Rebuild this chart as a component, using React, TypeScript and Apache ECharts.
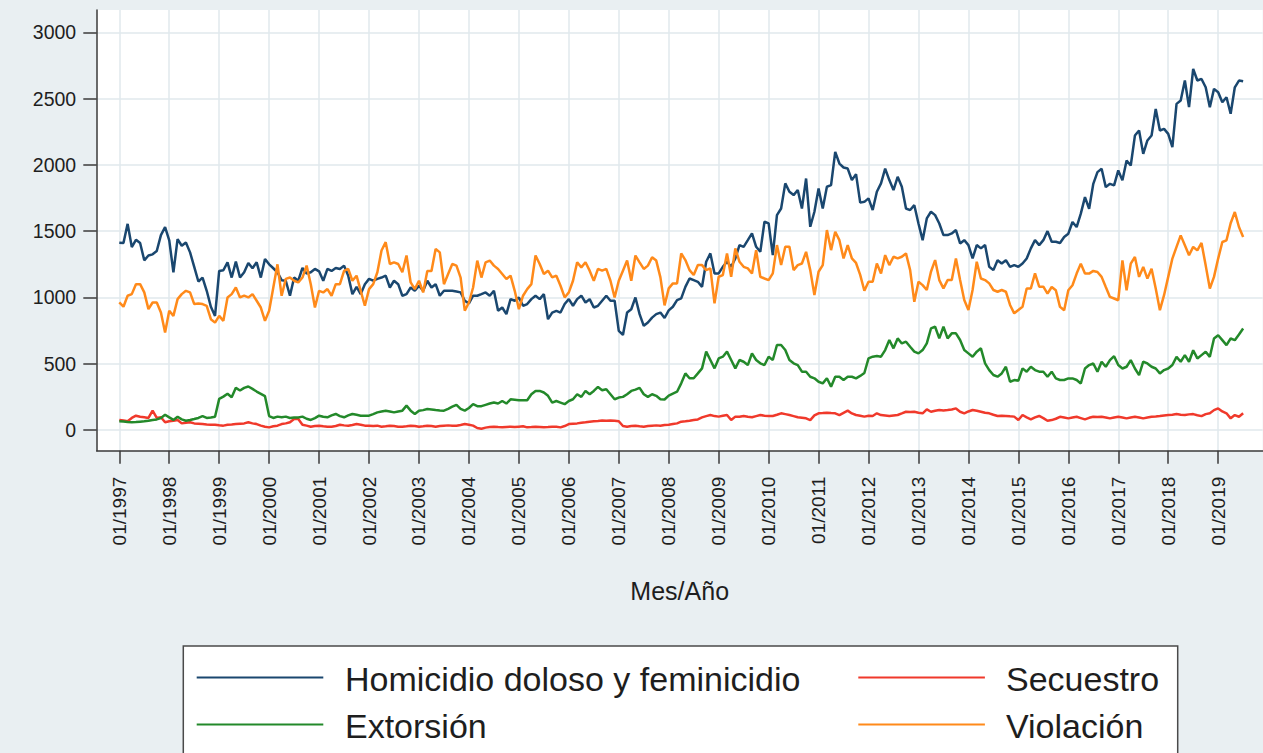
import React, { useEffect, useRef } from "react";
import * as echarts from "echarts";

// ---------- data ----------
const yearTicks = [0, 12, 24, 36, 48, 60, 72, 84, 96, 108, 120, 132, 144, 156, 168, 180, 192, 204, 216, 228, 240, 252, 264];
const yearTickLabels = [
  "01/1997", "01/1998", "01/1999", "01/2000", "01/2001", "01/2002", "01/2003", "01/2004",
  "01/2005", "01/2006", "01/2007", "01/2008", "01/2009", "01/2010", "01/2011", "01/2012",
  "01/2013", "01/2014", "01/2015", "01/2016", "01/2017", "01/2018", "01/2019",
];
const yTicks = [0, 500, 1000, 1500, 2000, 2500, 3000];

const seriesNames = ["Homicidio doloso y feminicidio", "Secuestro", "Extorsión", "Violación"];
const seriesColors = ["#1a476f", "#f0392b", "#23892a", "#ff8a1a"];

// monthly values, 01/1997 .. 07/2019
const homicidio = [
  1412, 1410, 1555, 1380, 1435, 1410, 1280, 1316, 1325, 1350,
  1470, 1530, 1430, 1190, 1440, 1390, 1415, 1340, 1230, 1120,
  1150, 1050, 930, 860, 1200, 1205, 1265, 1150, 1270, 1150,
  1190, 1260, 1220, 1265, 1150, 1290, 1250, 1220, 1190, 1130,
  1126, 1013, 1150, 1126, 1222, 1180, 1190, 1215, 1197, 1126,
  1215, 1200, 1222, 1215, 1240, 1164, 1025, 1080, 1025, 1100,
  1140, 1126, 1140, 1150, 1164, 1075, 1126, 1100, 1013, 1025,
  1075, 1050, 1088, 1050, 1126, 1075, 1100, 1013, 1050, 1050,
  1050, 1045, 1038, 975, 955, 1013, 1013, 1025, 1038, 1013,
  1050, 899, 924, 874, 987, 975, 1000, 937, 950, 987,
  1013, 987, 1025, 836, 886, 899, 886, 950, 987, 937,
  987, 1013, 962, 987, 924, 937, 975, 1013, 975, 975,
  748, 717, 886, 911, 1000, 874, 786, 811, 848, 874,
  886, 845, 902, 930, 980, 993, 1080, 1143, 1131, 1118,
  1080, 1269, 1332, 1181, 1181, 1231, 1269, 1231, 1294, 1395,
  1382, 1432, 1483, 1382, 1344, 1571, 1558, 1319, 1621, 1671,
  1860, 1797, 1772, 1810, 1671, 1897, 1533, 1646, 1822, 1671,
  1835, 1847, 2098, 2010, 1980, 1972, 1885, 1930, 1715, 1721,
  1747, 1659, 1797, 1860, 1972, 1885, 1810, 1910, 1835, 1671,
  1659, 1696, 1558, 1432, 1596, 1646, 1621, 1558, 1470, 1470,
  1483, 1508, 1407, 1432, 1395, 1294, 1395, 1370, 1395, 1231,
  1206, 1281, 1256, 1281, 1231, 1244, 1231, 1256, 1294, 1370,
  1432, 1395, 1432, 1500, 1420, 1420, 1411, 1456, 1481, 1569,
  1531, 1632, 1757, 1669, 1857, 1945, 1970, 1832, 1857, 1845,
  1958, 1883, 2033, 1995, 2221, 2259, 2083, 2184, 2221, 2422,
  2259, 2271, 2234, 2134, 2460, 2485, 2636, 2435, 2723, 2636,
  2648, 2585, 2435, 2573, 2548, 2472, 2510, 2385, 2585, 2636, 2630,
];

const secuestro = [
  76, 71, 66, 91, 108, 100, 96, 91, 146, 91,
  96, 58, 66, 70, 76, 50, 55, 58, 50, 48,
  45, 42, 40, 40, 36, 33, 40, 42, 45, 48,
  50, 58, 50, 45, 33, 25, 20, 28, 33, 45,
  50, 58, 83, 83, 40, 33, 25, 30, 33, 28,
  25, 25, 30, 40, 35, 33, 38, 45, 40, 33,
  33, 30, 33, 25, 28, 33, 30, 25, 25, 28,
  33, 30, 25, 28, 33, 30, 25, 30, 33, 35,
  33, 33, 38, 45, 40, 33, 15, 10, 18, 22,
  25, 22, 20, 23, 25, 22, 25, 28, 20, 22,
  25, 23, 20, 22, 25, 24, 20, 30, 45, 48,
  50, 55, 58, 62, 66, 68, 71, 70, 71, 70,
  66, 30, 25, 30, 33, 28, 25, 30, 33, 35,
  33, 38, 40, 45, 50, 63, 66, 70, 75, 80,
  95, 105, 113, 105, 101, 108, 113, 75, 101, 100,
  106, 100, 96, 105, 113, 108, 106, 106, 115, 126,
  120, 113, 105, 96, 92, 88, 75, 110, 126, 128,
  131, 128, 126, 113, 130, 146, 125, 113, 108, 101,
  108, 106, 126, 113, 110, 106, 110, 113, 125, 138,
  135, 138, 130, 126, 156, 138, 145, 151, 148, 151,
  155, 163, 138, 126, 140, 151, 145, 138, 130, 126,
  115, 106, 108, 106, 103, 101, 75, 113, 95, 80,
  95, 106, 90, 70, 75, 85, 100, 95, 88, 95,
  100, 90, 80, 92, 100, 98, 100, 95, 88, 95,
  100, 95, 88, 95, 100, 95, 88, 95, 100, 102,
  105, 110, 113, 116, 120, 116, 113, 118, 120, 112,
  105, 120, 126, 150, 163, 140, 126, 88, 113, 100, 126,
];

const extorsion = [
  66, 64, 60, 58, 60, 63, 66, 70, 76, 80,
  91, 115, 95, 76, 100, 80, 70, 76, 83, 91,
  105, 91, 95, 100, 235, 252, 273, 247, 318, 298,
  318, 328, 310, 290, 273, 255, 105, 91, 101, 96,
  101, 91, 95, 95, 101, 85, 76, 90, 108, 100,
  96, 110, 121, 105, 96, 110, 121, 115, 108, 108,
  108, 120, 133, 140, 146, 140, 133, 140, 146, 184,
  146, 121, 146, 150, 159, 155, 151, 148, 146, 160,
  176, 190, 159, 146, 166, 195, 180, 180, 190, 200,
  207, 200, 219, 200, 232, 228, 224, 224, 224, 270,
  295, 295, 283, 258, 207, 219, 207, 195, 219, 232,
  270, 250, 295, 270, 295, 325, 300, 308, 270, 232,
  245, 250, 270, 295, 305, 318, 270, 250, 270, 258,
  232, 230, 260, 275, 289, 352, 427, 390, 390, 427,
  465, 591, 528, 465, 540, 553, 591, 528, 465, 528,
  515, 490, 578, 528, 503, 490, 553, 528, 641, 641,
  603, 528, 503, 490, 440, 440, 402, 390, 364, 352,
  390, 327, 402, 402, 377, 402, 402, 390, 408, 430,
  540, 553, 558, 553, 603, 679, 616, 691, 653, 666,
  628, 591, 578, 603, 653, 766, 779, 691, 779, 691,
  729, 729, 679, 603, 578, 553, 591, 616, 503, 452,
  415, 402, 427, 477, 364, 377, 372, 465, 440, 477,
  452, 440, 440, 402, 440, 389, 377, 377, 389, 389,
  377, 351, 464, 490, 502, 440, 515, 477, 527, 557,
  490, 464, 477, 527, 464, 414, 515, 502, 477, 464,
  427, 452, 464, 490, 552, 515, 565, 515, 602, 540,
  565, 590, 552, 690, 715, 678, 640, 690, 678, 720, 766,
];

const violacion = [
  962, 930, 1013, 1025, 1100, 1100, 1038, 912, 962, 962,
  886, 735, 900, 861, 987, 1025, 1050, 1038, 950, 955,
  950, 937, 836, 810, 861, 823, 1000, 1025, 1075, 1000,
  1013, 1000, 1025, 975, 924, 823, 900, 1075, 1250, 1013,
  1140, 1150, 1126, 1113, 1150, 1240, 1100, 924, 1050, 1038,
  1063, 1013, 1100, 1100, 1200, 1215, 1126, 1164, 1050, 937,
  1063, 1100, 1190, 1354, 1417, 1252, 1265, 1252, 1190, 1316,
  1113, 1063, 1126, 1038, 1200, 1200, 1366, 1340, 1100, 1177,
  1252, 1240, 1150, 900, 962, 1075, 1278, 1150, 1265, 1278,
  1240, 1215, 1177, 1139, 1164, 1050, 912, 1013, 1063, 1100,
  1316, 1252, 1177, 1202, 1151, 1164, 1088, 1000, 1038, 1126,
  1265, 1227, 1265, 1202, 1126, 1215, 1202, 1215, 1126, 1000,
  1126, 1202, 1278, 1126, 1316, 1265, 1215, 1240, 1303, 1278,
  1151, 940, 1068, 1106, 1106, 1332, 1282, 1206, 1169, 1244,
  1244, 1206, 1219, 955, 1156, 1169, 1332, 1156, 1370, 1269,
  1231, 1219, 1181, 1357, 1156, 1143, 1131, 1181, 1395, 1244,
  1382, 1382, 1206, 1244, 1256, 1344, 1206, 1018, 1194, 1244,
  1508, 1357, 1495, 1432, 1294, 1395, 1294, 1260, 1170, 1050,
  1118, 1118, 1256, 1181, 1319, 1244, 1307, 1294, 1307, 1332,
  1206, 967, 1118, 1093, 1056, 1194, 1282, 1131, 1068, 1131,
  1131, 1294, 1131, 980, 905, 1056, 1269, 1143, 1131, 1106,
  1056, 1043, 1056, 1043, 943, 880, 905, 930, 1068, 1068,
  1181, 1081, 1081, 1029, 1079, 1054, 929, 904, 1054, 1092,
  1180, 1255, 1180, 1180, 1200, 1192, 1155, 1079, 1004, 992,
  979, 1280, 1054, 1255, 1305, 1155, 1230, 1142, 1217, 1067,
  904, 1017, 1155, 1293, 1381, 1468, 1393, 1318, 1381, 1355,
  1411, 1242, 1067, 1155, 1293, 1418, 1431, 1560, 1644, 1531, 1456,
];

const allSeries = [homicidio, secuestro, extorsion, violacion];

const FONT = '"Liberation Sans", Arial, Helvetica, sans-serif';

export default function App() {
  const ref = useRef<HTMLDivElement>(null);

  useEffect(() => {
    if (!ref.current) return;
    const chart = echarts.init(ref.current, null, { renderer: "svg" });

    const legendRows = [
      { x: 196.7, tx: 345, y: 677.5, ty: 679, idx: 0 },
      { x: 858.3, tx: 1006, y: 677.5, ty: 679, idx: 1 },
      { x: 196.7, tx: 345, y: 724.5, ty: 726, idx: 2 },
      { x: 858.3, tx: 1006, y: 724.5, ty: 726, idx: 3 },
    ];

    const graphic: any[] = [
      {
        type: "rect",
        shape: { x: 183.3, y: 646, width: 994.4, height: 140 },
        style: { fill: "#ffffff", stroke: "#4a4a4a", lineWidth: 1.5 },
        z: 10,
      },
    ];
    legendRows.forEach((r) => {
      graphic.push({
        type: "line",
        shape: { x1: r.x, y1: r.y, x2: r.x + 126.6, y2: r.y },
        style: { stroke: seriesColors[r.idx], lineWidth: 2 },
        z: 11,
      });
      graphic.push({
        type: "text",
        x: r.tx,
        y: r.ty,
        style: {
          text: seriesNames[r.idx],
          fontSize: 34,
          fontFamily: FONT,
          fill: "#1e1e1e",
          verticalAlign: "middle",
          align: "left",
        },
        z: 11,
      });
    });

    const option: any = {
      animation: false,
      backgroundColor: "#e9eff2",
      grid: {
        left: 96.7,
        top: 10,
        width: 1166,
        height: 440.7,
        show: true,
        backgroundColor: "#ffffff",
        borderWidth: 0,
      },
      xAxis: {
        type: "value",
        min: -5.43,
        max: 274.7,
        name: "Mes/Año",
        nameLocation: "middle",
        nameGap: 128,
        nameTextStyle: { fontSize: 25, fontFamily: FONT, color: "#1e1e1e" },
        axisLine: { show: true, onZero: false, lineStyle: { color: "#3a3a3a", width: 1.5 } },
        axisTick: {
          show: true,
          inside: false,
          length: 13,
          customValues: yearTicks,
          lineStyle: { color: "#3a3a3a", width: 1.5 },
        },
        axisLabel: {
          show: true,
          customValues: yearTicks,
          rotate: 90,
          margin: 26,
          fontSize: 19,
          fontFamily: FONT,
          color: "#1e1e1e",
          formatter: (v: number) => {
            const i = yearTicks.indexOf(Math.round(v));
            return i >= 0 ? yearTickLabels[i] : "";
          },
        },
        splitLine: { show: true, lineStyle: { color: "#e0e8ec", width: 1.5 } },
      },
      yAxis: {
        type: "value",
        min: -156,
        max: 3168,
        axisLine: { show: true, onZero: false, lineStyle: { color: "#3a3a3a", width: 1.5 } },
        axisTick: {
          show: true,
          inside: false,
          length: 13.4,
          customValues: yTicks,
          lineStyle: { color: "#3a3a3a", width: 1.5 },
        },
        axisLabel: {
          show: true,
          customValues: yTicks,
          margin: 20.5,
          fontSize: 19.5,
          fontFamily: FONT,
          color: "#1e1e1e",
          formatter: (v: number) => String(Math.round(v)),
        },
        splitLine: { show: true, lineStyle: { color: "#e0e8ec", width: 1.5 } },
      },
      series: allSeries.map((arr, si) => ({
        type: "line",
        name: seriesNames[si],
        data: arr.map((v, i) => [i, v]),
        showSymbol: false,
        symbol: "none",
        lineStyle: { color: seriesColors[si], width: 2.5 },
        itemStyle: { color: seriesColors[si] },
        z: 2 + si,
      })),
      graphic,
    };

    chart.setOption(option);
    return () => chart.dispose();
  }, []);

  return (
    <div
      style={{
        position: "fixed",
        left: 0,
        top: 0,
        width: 1263,
        height: 753,
        overflow: "hidden",
      }}
    >
      <div ref={ref} style={{ width: 1263, height: 753 }} />
    </div>
  );
}
